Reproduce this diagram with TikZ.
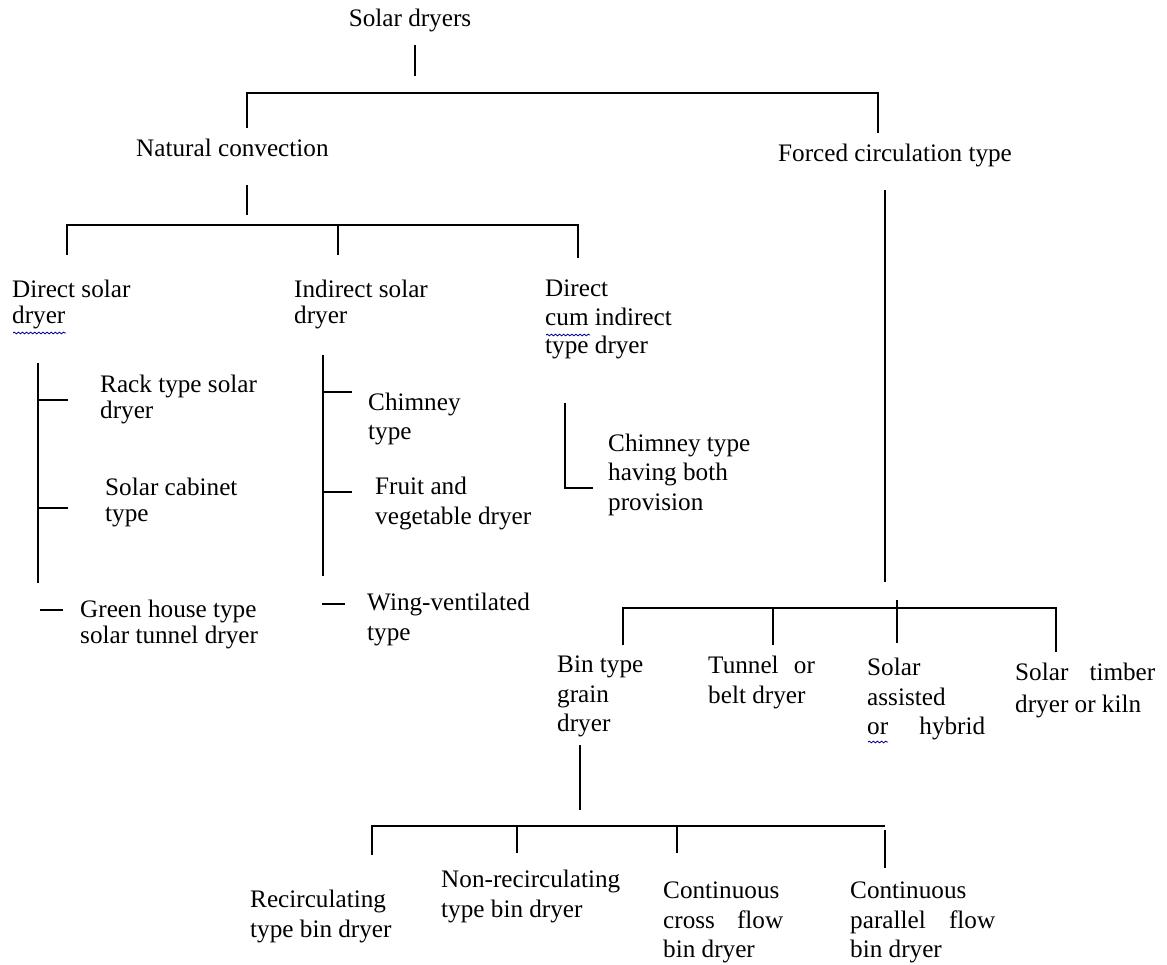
\documentclass[tikz,border=0pt]{standalone}
\usepackage{fontspec}
\setmainfont{Liberation Serif}
\usetikzlibrary{positioning, calc, decorations.pathmorphing}

\begin{document}
\begin{tikzpicture}[
  x=0.03cm, y=-0.03cm,
  lbl/.style={anchor=north west, inner sep=0pt, align=left,
    font=\fontsize{21.5}{22.1}\selectfont},
  lblw/.style={lbl, font=\fontsize{21.5}{25}\selectfont},
  br/.style={line width=2.4pt},
  spell/.style={draw=blue!60!black, line width=0.7pt, decorate,
    decoration={snake, amplitude=0.7pt, segment length=3.5pt}}
]
  \useasboundingbox (0,0) rectangle (1167,965);

  % top levels
  \node[lbl, anchor=north] (root) at (410,9) {Solar dryers};
  \node[lbl] (nat) at (136,139) {Natural convection};
  \node[lbl] (frc) at (778,144) {Forced circulation type};

  \coordinate (tl) at (247,93);
  \coordinate (tr) at (878,93);
  \draw[br] (415,45) -- (415,76);
  \draw[br] (247,128) -- (tl) -- (tr) -- (878,133);

  % natural convection
  \node[lbl] (dir) at (12,280) {Direct solar\\dryer};
  \node[lbl] (ind) at (294,280) {Indirect solar\\dryer};
  \node[lbl, font=\fontsize{21.5}{24}\selectfont] (dci) at (545,280)
    {Direct\\cum indirect\\type dryer};

  \coordinate (nl) at (67,225);
  \coordinate (nr) at (578,225);
  \draw[br] (247,185) -- (247,215);
  \draw[br] (67,255) -- (nl) -- (nr) -- (578,258);
  \draw[br] (338,225) -- (338,255);

  % direct solar dryer
  \node[lbl] (rack) at (100,375) {Rack type solar\\dryer};
  \node[lbl] (cab) at (105,478) {Solar cabinet\\type};
  \node[lbl] (grn) at (80,600) {Green house type\\solar tunnel dryer};
  \draw[br] (38,363) -- (38,583);
  \draw[br] (38,400) -- (68,400);
  \draw[br] (38,508) -- (68,508);
  \draw[br] (40,610) -- (63,610);

  % indirect solar dryer
  \node[lblw] (chim) at (368,393) {Chimney\\type};
  \node[lblw] (fruit) at (375,477) {Fruit and\\vegetable dryer};
  \node[lblw] (wing) at (367,593) {Wing-ventilated\\type};
  \draw[br] (323,355) -- (323,576);
  \draw[br] (323,392) -- (352,392);
  \draw[br] (323,492) -- (352,492);
  \draw[br] (322,604) -- (345,604);

  % direct cum indirect
  \node[lblw] (both) at (608,434) {Chimney type\\having both\\provision};
  \draw[br] (565,403) -- (565,488) -- (593,488);

  % forced circulation
  \node[lblw] (bin) at (557,656) {Bin type\\grain\\dryer};
  \node[lblw] (tun) at (708,656) {\makebox[3.2cm][s]{Tunnel or}\\belt dryer};
  \node[lblw] (hyb) at (867,658) {Solar\\assisted\\\makebox[3.54cm][s]{or hybrid}};
  \node[lblw, font=\fontsize{21.5}{27}\selectfont] (tim) at (1015,663)
    {\makebox[4.2cm][s]{Solar timber}\\dryer or kiln};

  \coordinate (fl) at (623,608);
  \coordinate (fr) at (1056,608);
  \draw[br] (885,190) -- (885,582);
  \draw[br] (623,645) -- (fl) -- (fr) -- (1056,652);
  \draw[br] (773,608) -- (773,645);
  \draw[br] (897,600) -- (897,643);

  % bin type grain dryer
  \node[lblw] (rec) at (250,890) {Recirculating\\type bin dryer};
  \node[lblw] (non) at (441,870) {Non-recirculating\\type bin dryer};
  \node[lblw] (ccf) at (663,882) {Continuous\\\makebox[3.6cm][s]{cross flow}\\bin dryer};
  \node[lblw] (cpf) at (850,882) {Continuous\\\makebox[4.35cm][s]{parallel flow}\\bin dryer};

  \coordinate (bl) at (372,826);
  \coordinate (brt) at (885,826);
  \draw[br] (580,745) -- (580,810);
  \draw[br] (372,855) -- (bl) -- (brt);
  \draw[br] (517,826) -- (517,853);
  \draw[br] (677,826) -- (677,853);
  \draw[br] (885,830) -- (885,868);

  % spell check marks
  \draw[spell] (13,333) -- (66,333);
  \draw[spell] (546,335) -- (590,335);
  \draw[spell] (868,742) -- (888,742);
\end{tikzpicture}
\end{document}
